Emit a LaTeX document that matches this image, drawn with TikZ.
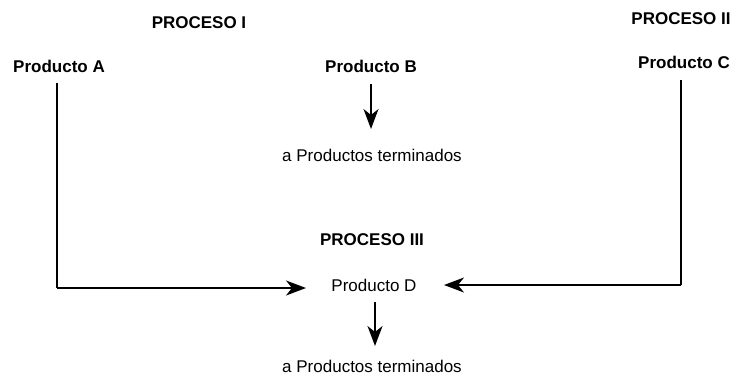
\documentclass[tikz,border=0pt]{standalone}
\usepackage{fontspec}
\setmainfont{Liberation Sans}
\usetikzlibrary{arrows.meta}
\begin{document}
\begin{tikzpicture}[x=1pt,y=-1pt,
  lab/.style={inner sep=0pt,font=\fontsize{17}{20}\selectfont},
  blab/.style={lab,font=\fontsize{17}{20}\selectfont\bfseries},
  conn/.style={line width=1.7pt,-{Stealth[length=20pt,width=15pt,inset=6pt]}},
  plain/.style={line width=1.7pt}]
\useasboundingbox (0,0) rectangle (736,378);
\node[blab] (p1) at (199,23) {PROCESO I};
\node[blab] (p2) at (681,19) {PROCESO II};
\node[blab] (pa) at (59,66) {Producto A};
\node[blab] (pb) at (371,66) {Producto B};
\node[blab] (pc) at (684,62) {Producto C};
\node[lab] (t1) at (372,155) {a Productos terminados};
\node[blab] (p3) at (372,240) {PROCESO III};
\node[lab] (pd) at (374,285) {Producto D};
\node[lab] (t2) at (372,366) {a Productos terminados};
\coordinate (ca) at (57,288);
\coordinate (cc) at (681,285);
\coordinate (bs) at (371,84);
\coordinate (be) at (371,129);
\coordinate (ds) at (375,302);
\coordinate (de) at (375,346);
\draw[conn] (bs) -- (be);
\draw[conn] (ds) -- (de);
\draw[plain] (57,83) -- (ca);
\draw[conn] (ca) -- (306,288);
\draw[plain] (681,80) -- (cc);
\draw[conn] (cc) -- (444,285);
\end{tikzpicture}
\end{document}
